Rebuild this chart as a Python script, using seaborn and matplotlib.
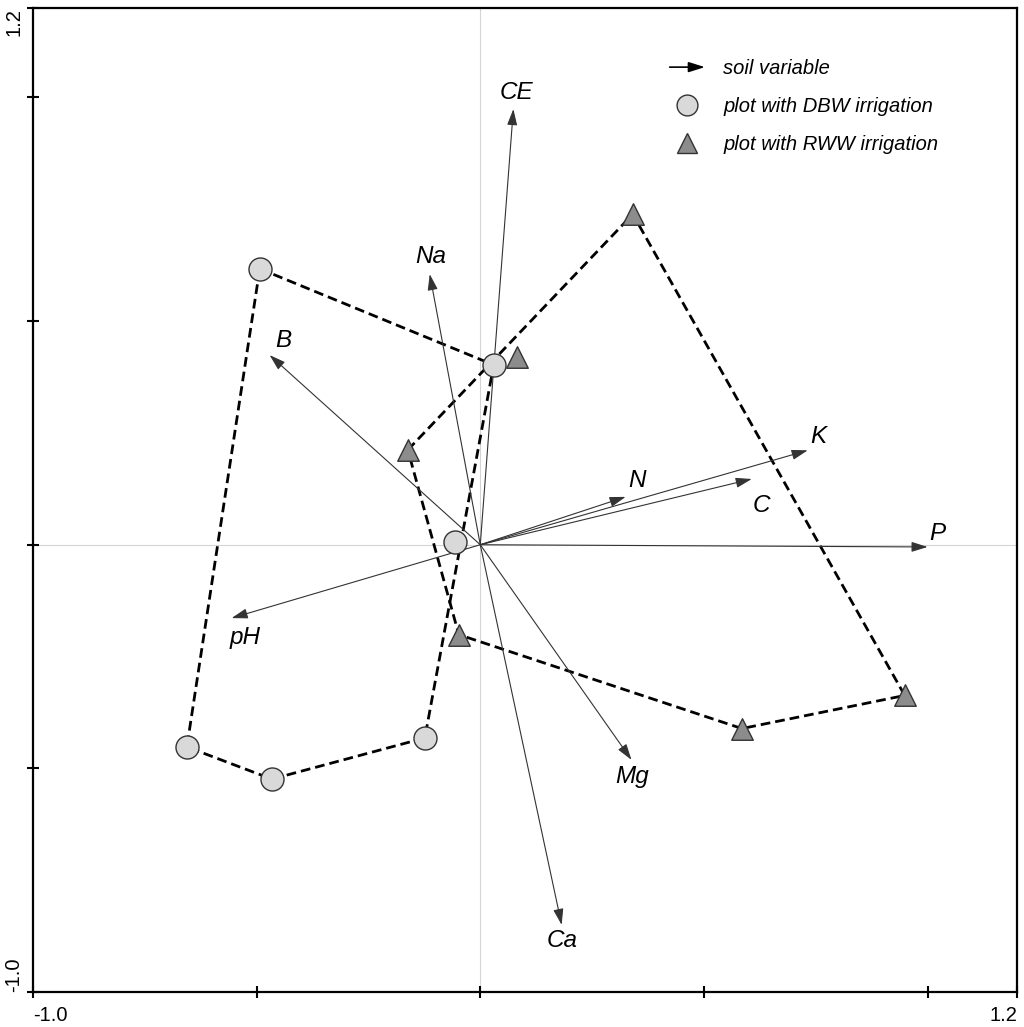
import matplotlib
matplotlib.use("Agg")
import matplotlib.pyplot as plt
import matplotlib.patches as mpatches
from matplotlib.lines import Line2D
from matplotlib.legend_handler import HandlerBase
import pandas as pd
import seaborn as sns

# soil variable vectors (biplot arrows)
variables = ["CE", "Na", "B", "K", "N", "C", "P", "pH", "Mg", "Ca"]
var_x = [0.074, -0.113, -0.471, 0.732, 0.325, 0.607, 1.000, -0.556, 0.338, 0.182]
var_y = [0.974, 0.605, 0.424, 0.211, 0.107, 0.147, -0.005, -0.164, -0.481, -0.850]

# plot scores
dbw_x = [-0.493, 0.030, -0.057, -0.124, -0.466, -0.656]
dbw_y = [0.617, 0.402, 0.006, -0.432, -0.524, -0.452]
rww_x = [0.341, 0.082, -0.162, -0.048, 0.585, 0.949]
rww_y = [0.739, 0.420, 0.212, -0.201, -0.411, -0.337]

# outline order of each group (index into the point lists)
dbw_hull = [0, 1, 3, 4, 5, 0]
rww_hull = [2, 0, 5, 4, 3, 2]

# label offsets from arrow tips, in pixels
label_offsets = {"CE": (3, 17), "Na": (1, 18), "B": (14, 15), "K": (11, 14),
                 "N": (11, 16), "C": (10, -27), "P": (10, 13), "pH": (14, -19),
                 "Mg": (1, -17), "Ca": (0, -16)}

sns.set_style("white")
plt.rcParams["font.family"] = ["Liberation Sans", "DejaVu Sans"]
plt.rcParams["text.color"] = "black"
plt.rcParams["xtick.color"] = "black"
plt.rcParams["ytick.color"] = "black"

fig = plt.figure(figsize=(10.24, 10.27), dpi=100)
ax = fig.add_axes([33 / 1024, 1 - 992 / 1027, 984 / 1024, 984 / 1027])

# zero lines
ax.axhline(0, color="#d4d4d4", lw=0.8, zorder=0)
ax.axvline(0, color="#d4d4d4", lw=0.8, zorder=0)

# group outlines
dash = (0, (3.5, 1.8))
dbw_line = pd.DataFrame({"x": [dbw_x[i] for i in dbw_hull], "y": [dbw_y[i] for i in dbw_hull]})
rww_line = pd.DataFrame({"x": [rww_x[i] for i in rww_hull], "y": [rww_y[i] for i in rww_hull]})
for d in (dbw_line, rww_line):
    sns.lineplot(data=d, x="x", y="y", sort=False, estimator=None, ax=ax,
                 color="black", lw=2.0, linestyle=dash, zorder=2)

# arrows
arrow_style = "-|>,head_length=0.7,head_width=0.22"
for name, vx, vy in zip(variables, var_x, var_y):
    ax.annotate("", xy=(vx, vy), xytext=(0, 0),
                arrowprops=dict(arrowstyle=arrow_style, color="#333333", lw=0.8,
                                shrinkA=0, shrinkB=0, mutation_scale=14), zorder=3)
    ax.annotate(name, xy=(vx, vy), xytext=label_offsets[name], textcoords="offset pixels",
                ha="center", va="center", fontsize=17.5, style="italic", color="black", zorder=5)

# points
sns.scatterplot(x=dbw_x, y=dbw_y, marker="o", s=275, color="#d9d9d9",
                edgecolor="#333333", linewidth=1.0, ax=ax, zorder=4)
sns.scatterplot(x=rww_x, y=rww_y, marker="^", s=240, color="#8c8c8c",
                edgecolor="#333333", linewidth=1.0, ax=ax, zorder=4)

ax.set_xlim(-1.0, 1.2)
ax.set_ylim(-1.0, 1.2)
ax.set_xlabel("")
ax.set_ylabel("")

ticks = [-1.0, -0.5, 0.0, 0.5, 1.0, 1.2]
tick_labels = ["-1.0", "", "", "", "", "1.2"]
ax.set_xticks(ticks)
ax.set_xticklabels(tick_labels, fontsize=14.5)
ax.set_yticks(ticks)
ax.set_yticklabels(tick_labels, fontsize=14.5, rotation=90, va="center")
xl = ax.get_xticklabels()
xl[0].set_ha("left")
xl[-1].set_ha("right")
yl = ax.get_yticklabels()
yl[0].set_va("bottom")
yl[-1].set_va("top")
ax.tick_params(axis="both", which="both", bottom=True, left=True, direction="inout",
               length=8, width=1.5, colors="black")
ax.tick_params(axis="x", pad=6)
ax.tick_params(axis="y", pad=3)

for s in ax.spines.values():
    s.set_color("black")
    s.set_linewidth(1.6)


# legend
class HandlerArrow(HandlerBase):
    def create_artists(self, legend, orig_handle, xdescent, ydescent, width, height,
                       fontsize, trans):
        y = height / 2 - ydescent
        a = mpatches.FancyArrowPatch((-xdescent, y), (width - xdescent, y),
                                     arrowstyle=arrow_style, mutation_scale=14,
                                     color="black", lw=1.2, shrinkA=0, shrinkB=0)
        a.set_transform(trans)
        return [a]


arrow_handle = mpatches.FancyArrowPatch((0, 0), (1, 0))
handles = [
    arrow_handle,
    Line2D([], [], marker="o", ls="", ms=15, mfc="#d9d9d9", mec="#333333", mew=1.0),
    Line2D([], [], marker="^", ls="", ms=15, mfc="#8c8c8c", mec="#333333", mew=1.0),
]
labels = ["soil variable", "plot with DBW irrigation", "plot with RWW irrigation"]
ax.legend(handles, labels, loc="upper left", bbox_to_anchor=(0.647, 0.948),
          frameon=False, borderpad=0, borderaxespad=0, handlelength=1.75,
          handletextpad=0.9, labelspacing=0.95,
          prop={"style": "italic", "size": 14.5},
          handler_map={mpatches.FancyArrowPatch: HandlerArrow()})

fig.savefig("out.png", dpi=100)
